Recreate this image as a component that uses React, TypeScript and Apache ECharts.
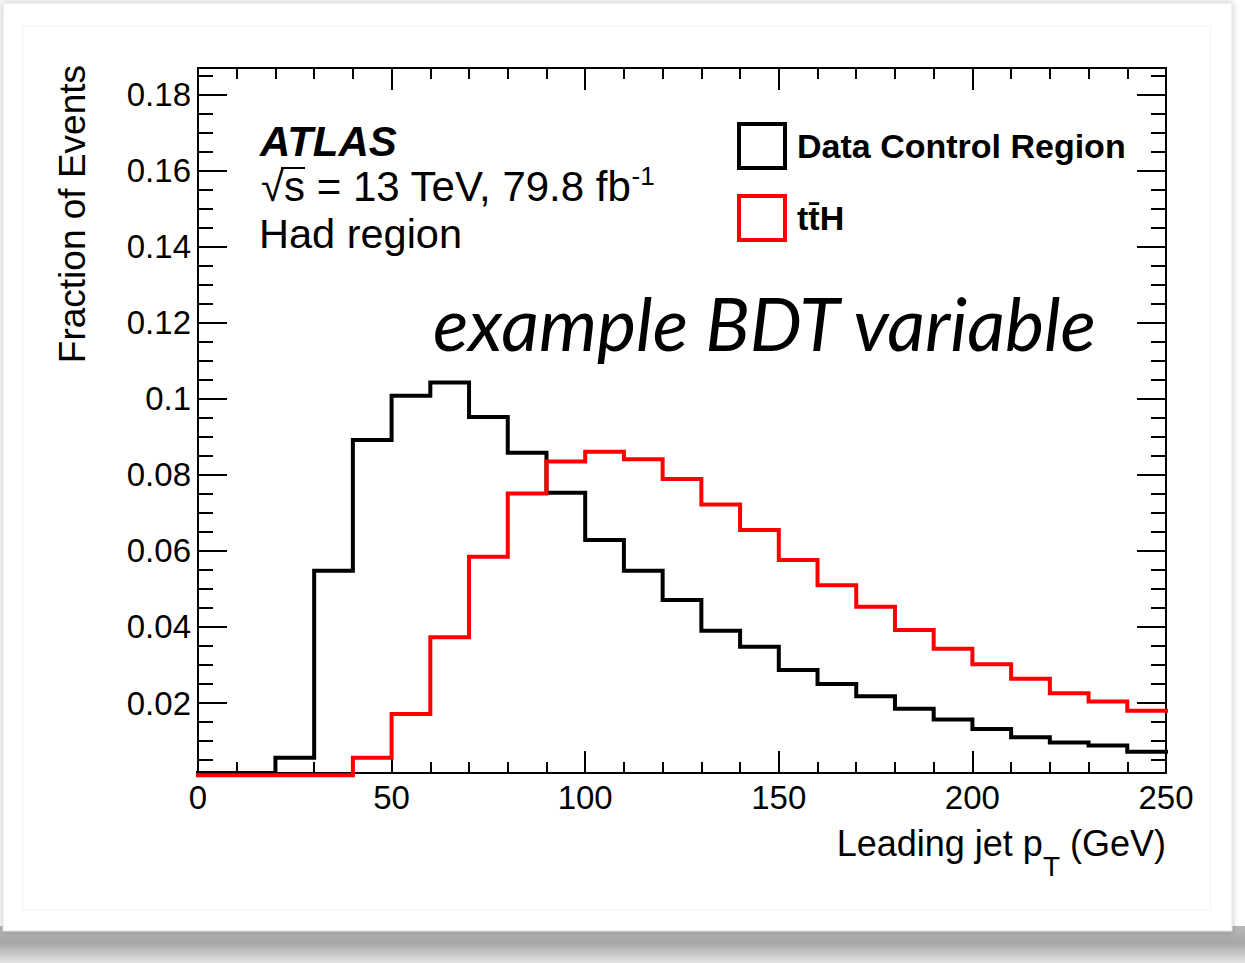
import React, { useEffect, useRef } from "react";
import * as echarts from "echarts";

// ---- data ----
const binLowEdges = [0, 10, 20, 30, 40, 50, 60, 70, 80, 90, 100, 110, 120, 130, 140, 150, 160, 170, 180, 190, 200, 210, 220, 230, 240];
const upperEdge = 250;
const dataControlRegion = [0.0016, 0.0016, 0.0056, 0.0548, 0.0892, 0.1008, 0.1043, 0.0952, 0.0858, 0.0753, 0.0629, 0.0548, 0.0471, 0.039, 0.0348, 0.0287, 0.025, 0.0218, 0.0185, 0.0157, 0.0132, 0.011, 0.0096, 0.0088, 0.0072];
const ttH = [0.001, 0.001, 0.001, 0.001, 0.0056, 0.0171, 0.0373, 0.0585, 0.0751, 0.0835, 0.0861, 0.0841, 0.0789, 0.0722, 0.0655, 0.0576, 0.051, 0.0453, 0.0392, 0.0343, 0.0302, 0.0264, 0.0226, 0.0204, 0.018];
const yMajorTicks = [0.02, 0.04, 0.06, 0.08, 0.1, 0.12, 0.14, 0.16, 0.18];
const yMinorTicks = [0.005, 0.01, 0.015, 0.025, 0.03, 0.035, 0.045, 0.05, 0.055, 0.065, 0.07, 0.075, 0.085, 0.09, 0.095, 0.105, 0.11, 0.115, 0.125, 0.13, 0.135, 0.145, 0.15, 0.155, 0.165, 0.17, 0.175, 0.185];
const seriesNames = ["Data Control Region", "tt\u0304H"];

const FONT = "'Liberation Sans', Helvetica, Arial, sans-serif";

function toSteps(vals: number[]) {
  const pts: number[][] = binLowEdges.map((x, i) => [x, vals[i]]);
  pts.push([upperEdge, vals[vals.length - 1]]);
  return pts;
}

function measure(text: string, font: string) {
  const c = document.createElement("canvas");
  const ctx = c.getContext("2d")!;
  ctx.font = font;
  return ctx.measureText(text).width;
}

export default function App() {
  const ref = useRef<HTMLDivElement>(null);
  useEffect(() => {
    if (!ref.current) return;
    const chart = echarts.init(ref.current, null, { renderer: "svg" });

    const bdtText = "example BDT variable";
    const bdtFontSize = 74;
    const bdtW = measure(bdtText, `italic ${bdtFontSize}px Lato`);
    const bdtScale = bdtW > 0 ? 667 / bdtW : 1;

    // x-axis title pieces
    const xtSize = 36;
    const subSize = 28;
    const xtRight = 1166;
    const wGeV = measure(" (GeV)", `${xtSize}px 'Liberation Sans'`);
    const wT = measure("T", `${subSize}px 'Liberation Sans'`);

    // sqrt(s) line
    const lumiSize = 42;
    const lumiX = 261;
    const wRad = measure("\u221A", `${lumiSize}px 'Liberation Sans'`);
    const wRadS = measure("\u221As", `${lumiSize}px 'Liberation Sans'`);

    const axisLineStyle = { color: "#000", width: 2 };
    const yCommon = {
      type: "value" as const,
      min: 0.0016,
      max: 0.187,
      splitLine: { show: false },
    };

    const option: any = {
      animation: false,
      backgroundColor: "#fff",
      grid: { left: 198, right: 79, top: 68, bottom: 190, containLabel: false },
      legend: {
        orient: "vertical",
        left: 737,
        top: 122,
        padding: 0,
        itemWidth: 46,
        itemHeight: 44,
        itemGap: 24,
        selectedMode: false,
        textStyle: { fontSize: 34, fontWeight: "bold", fontFamily: FONT, color: "#000", padding: [0, 0, 0, 7] },
        data: [
          { name: seriesNames[0], icon: "rect", itemStyle: { color: "rgba(0,0,0,0)", borderColor: "#000", borderWidth: 4 } },
          { name: seriesNames[1], icon: "rect", itemStyle: { color: "rgba(0,0,0,0)", borderColor: "#ff0000", borderWidth: 4 } },
        ],
      },
      xAxis: [
        {
          type: "value",
          position: "bottom",
          min: 0,
          max: 250,
          interval: 50,
          axisLine: { lineStyle: axisLineStyle },
          axisTick: { inside: true, length: 22, lineStyle: axisLineStyle },
          minorTick: { show: true, splitNumber: 5, length: 11, lineStyle: axisLineStyle },
          axisLabel: { fontSize: 33, fontFamily: FONT, color: "#000", margin: 8 },
          splitLine: { show: false },
          minorSplitLine: { show: false },
        },
        {
          type: "value",
          position: "top",
          min: 0,
          max: 250,
          interval: 50,
          axisLine: { lineStyle: axisLineStyle },
          axisTick: { inside: true, length: 22, lineStyle: axisLineStyle },
          minorTick: { show: true, splitNumber: 5, length: 11, lineStyle: axisLineStyle },
          axisLabel: { show: false },
          splitLine: { show: false },
          minorSplitLine: { show: false },
        },
      ],
      yAxis: [
        {
          ...yCommon,
          position: "left",
          offset: 0,
          axisLine: { show: true, lineStyle: axisLineStyle },
          axisTick: { show: true, inside: true, length: 29, lineStyle: axisLineStyle, customValues: yMajorTicks },
          axisLabel: { show: true, fontSize: 33, fontFamily: FONT, color: "#000", margin: 7, customValues: yMajorTicks },
        },
        {
          ...yCommon,
          position: "left",
          offset: 0,
          axisLine: { show: false },
          axisTick: { show: true, inside: true, length: 15, lineStyle: axisLineStyle, customValues: yMinorTicks },
          axisLabel: { show: false },
        },
        {
          ...yCommon,
          position: "right",
          offset: 0,
          axisLine: { show: true, lineStyle: axisLineStyle },
          axisTick: { show: true, inside: true, length: 29, lineStyle: axisLineStyle, customValues: yMajorTicks },
          axisLabel: { show: false },
        },
        {
          ...yCommon,
          position: "right",
          offset: 0,
          axisLine: { show: false },
          axisTick: { show: true, inside: true, length: 15, lineStyle: axisLineStyle, customValues: yMinorTicks },
          axisLabel: { show: false },
        },
      ],
      series: [
        {
          name: seriesNames[0],
          type: "line",
          step: "end",
          xAxisIndex: 0,
          yAxisIndex: 0,
          showSymbol: false,
          symbol: "none",
          clip: false,
          color: "#000",
          lineStyle: { color: "#000", width: 4, join: "miter", cap: "square" },
          data: toSteps(dataControlRegion),
          z: 3,
        },
        {
          name: seriesNames[1],
          type: "line",
          step: "end",
          xAxisIndex: 0,
          yAxisIndex: 0,
          showSymbol: false,
          symbol: "none",
          clip: false,
          color: "#ff0000",
          lineStyle: { color: "#ff0000", width: 4, join: "miter", cap: "square" },
          data: toSteps(ttH),
          z: 4,
        },
      ],
      graphic: [
        // slide frame
        {
          type: "rect",
          z: -20,
          silent: true,
          shape: { x: 0, y: 926, width: 1245, height: 37 },
          style: {
            fill: new echarts.graphic.LinearGradient(0, 0, 0, 1, [
              { offset: 0, color: "#b8b8b8" },
              { offset: 0.45, color: "#a6a6a6" },
              { offset: 1, color: "#e4e4e4" },
            ]),
          },
        },
        {
          type: "rect",
          z: -19,
          silent: true,
          shape: { x: 3, y: 3, width: 1229, height: 928 },
          style: { fill: "#fff", stroke: "#e2e2e2", lineWidth: 1, shadowBlur: 6, shadowColor: "rgba(0,0,0,0.25)" },
        },
        {
          type: "rect",
          z: -18,
          silent: true,
          shape: { x: 23, y: 26, width: 1187, height: 884 },
          style: { fill: "none", stroke: "#efefef", lineWidth: 1 },
        },
        // y axis title
        {
          type: "text",
          x: 72,
          y: 65,
          rotation: Math.PI / 2,
          style: { text: "Fraction of Events", fontSize: 37, fontFamily: FONT, fill: "#000", align: "right", verticalAlign: "middle" },
        },
        // x axis title (with subscript T)
        {
          type: "text",
          x: xtRight,
          y: 843,
          style: { text: " (GeV)", fontSize: xtSize, fontFamily: FONT, fill: "#000", align: "right", verticalAlign: "middle" },
        },
        {
          type: "text",
          x: xtRight - wGeV,
          y: 866,
          style: { text: "T", fontSize: subSize, fontFamily: FONT, fill: "#000", align: "right", verticalAlign: "middle" },
        },
        {
          type: "text",
          x: xtRight - wGeV - wT,
          y: 843,
          style: { text: "Leading jet p", fontSize: xtSize, fontFamily: FONT, fill: "#000", align: "right", verticalAlign: "middle" },
        },
        // ATLAS label
        {
          type: "text",
          x: 260,
          y: 141,
          style: { text: "ATLAS", fontSize: 42, fontWeight: "bold", fontStyle: "italic", fontFamily: FONT, fill: "#000", verticalAlign: "middle" },
        },
        {
          type: "text",
          x: lumiX,
          y: 163,
          style: {
            text: "{m|\u221As = 13 TeV, 79.8 fb}{p|-1}",
            verticalAlign: "top",
            fill: "#000",
            rich: {
              m: { fontSize: lumiSize, fontFamily: FONT, lineHeight: 44, verticalAlign: "bottom", fill: "#000" },
              p: { fontSize: 26, fontFamily: FONT, lineHeight: 22, verticalAlign: "top", fill: "#000" },
            },
          },
        },
        {
          type: "line",
          shape: { x1: lumiX + wRad - 3, y1: 168, x2: lumiX + wRadS, y2: 168 },
          style: { stroke: "#000", lineWidth: 2 },
        },
        {
          type: "text",
          x: 259,
          y: 233,
          style: { text: "Had region", fontSize: 41.5, fontFamily: FONT, fill: "#000", verticalAlign: "middle", lineHeight: 44 },
        },
        // overlay text
        {
          type: "text",
          x: 433,
          y: 322,
          scaleX: bdtScale,
          style: { text: bdtText, fontSize: bdtFontSize, fontStyle: "italic", fontFamily: "Lato", fill: "#000", verticalAlign: "middle" },
        },
      ],
    };

    chart.setOption(option);
    return () => chart.dispose();
  }, []);

  return <div ref={ref} style={{ position: "fixed", left: 0, top: 0, width: 1245, height: 963 }} />;
}
